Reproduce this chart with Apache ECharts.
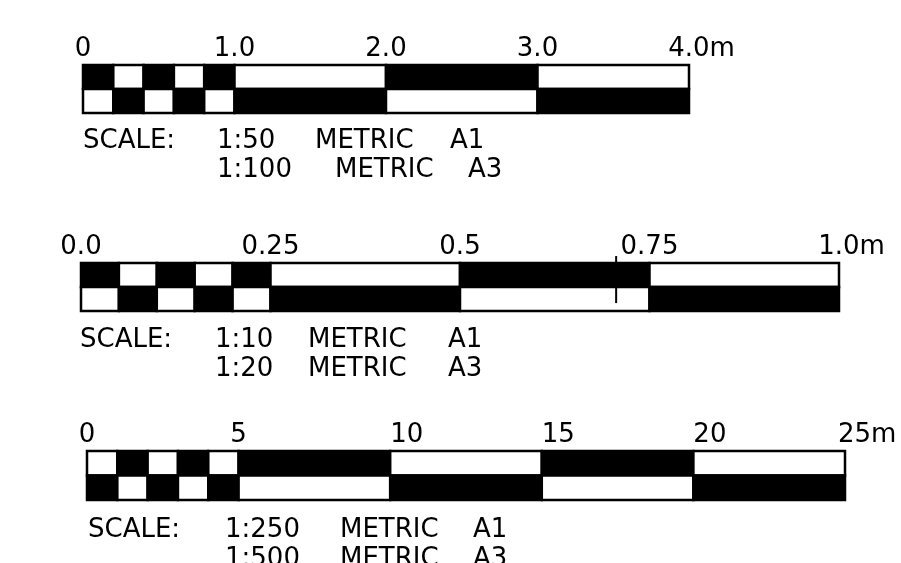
<!DOCTYPE html>
<html><head><meta charset="utf-8">
<script src="https://cdn.jsdelivr.net/npm/echarts@6/dist/echarts.min.js"></script>
<style>html,body{margin:0;padding:0;background:#fff}#c{width:901px;height:563px}</style>
</head><body><div id="c"></div>
<script>
// ---- Scale bar 1 (1:50 / 1:100) ----
const edges1 = [0, 0.2, 0.4, 0.6, 0.8, 1.0, 2.0, 3.0, 4.0];
const topBlackFirst1 = true;
const ticks1 = [0, 1, 2, 3, 4];
const tickLabels1 = ['0', '1.0', '2.0', '3.0', '4.0m'];
const notesA1 = ['SCALE:', '1:50', 'METRIC', 'A1'];
const notesB1 = ['1:100', 'METRIC', 'A3'];

// ---- Scale bar 2 (1:10 / 1:20) ----
const edges2 = [0, 0.05, 0.1, 0.15, 0.2, 0.25, 0.5, 0.75, 1.0];
const topBlackFirst2 = true;
const ticks2 = [0, 0.25, 0.5, 0.75, 1.0];
const tickLabels2 = ['0.0', '0.25', '0.5', '0.75', '1.0m'];
const markers2 = [0.706];
const notesA2 = ['SCALE:', '1:10', 'METRIC', 'A1'];
const notesB2 = ['1:20', 'METRIC', 'A3'];

// ---- Scale bar 3 (1:250 / 1:500) ----
const edges3 = [0, 1, 2, 3, 4, 5, 10, 15, 20, 25];
const topBlackFirst3 = false;
const ticks3 = [0, 5, 10, 15, 20, 25];
const tickLabels3 = ['0', '5', '10', '15', '20', '25m'];
const notesA3 = ['SCALE:', '1:250', 'METRIC', 'A1'];
const notesB3 = ['1:500', 'METRIC', 'A3'];

const FONT = 'DejaVu Sans';
const FS = 26;

const bars = [
  {edges: edges1, topBlack: topBlackFirst1, ticks: ticks1, labels: tickLabels1, markers: [],
   grid: {left: 83, top: 65, width: 606, height: 48}, labelMode: 'center',
   notesA: notesA1, notesB: notesB1, xA: [83, 217, 315, 450], xB: [217, 335, 468], yA: 154, yB: 183},
  {edges: edges2, topBlack: topBlackFirst2, ticks: ticks2, labels: tickLabels2, markers: markers2,
   grid: {left: 81, top: 263, width: 758, height: 48}, labelMode: 'center',
   notesA: notesA2, notesB: notesB2, xA: [80, 215, 308, 448], xB: [215, 308, 448], yA: 353, yB: 382},
  {edges: edges3, topBlack: topBlackFirst3, ticks: ticks3, labels: tickLabels3, markers: [],
   grid: {left: 87, top: 451, width: 758, height: 49}, labelMode: 'left',
   notesA: notesA3, notesB: notesB3, xA: [88, 225, 340, 473], xB: [225, 340, 473], yA: 543, yB: 572}
];

const chart = echarts.init(document.getElementById('c'), null, {renderer: 'canvas'});

const grid = [], xAxis = [], yAxis = [], series = [], graphic = [];
const mW = 25, digitW = 16.5;

function padFor(b, s) {
  const num = s.replace('m', '');
  const hasM = s.endsWith('m');
  if (b.labelMode === 'left' && num.length > 1) return num.length * digitW + (hasM ? mW * 0.45 : 0);
  if (hasM) return mW;
  return 0;
}

bars.forEach((b, k) => {
  grid.push(Object.assign({show: true, borderColor: '#000', borderWidth: 2, backgroundColor: 'transparent', z: 5}, b.grid));
  const maxV = b.edges[b.edges.length - 1];
  const rich = {t: {fontFamily: FONT, fontSize: FS, color: '#000'}};
  b.labels.forEach(s => { const p = padFor(b, s); if (p > 0) rich['p' + Math.round(p)] = {width: p}; });
  xAxis.push({
    type: 'value', gridIndex: k, position: 'top', min: 0, max: maxV,
    interval: b.ticks[1] - b.ticks[0],
    axisLine: {show: false}, axisTick: {show: false}, splitLine: {show: false},
    axisLabel: {
      show: true, margin: 3, color: '#000', fontFamily: FONT, fontSize: FS,
      formatter: function (v) {
        const i = b.ticks.findIndex(t => Math.abs(t - v) < 1e-9);
        if (i < 0) return '';
        const s = b.labels[i];
        const p = padFor(b, s);
        return p > 0 ? '{p' + Math.round(p) + '|}{t|' + s + '}' : '{t|' + s + '}';
      },
      rich: rich
    }
  });
  yAxis.push({type: 'value', gridIndex: k, min: 0, max: 2, show: false});

  const cells = [];
  for (let i = 0; i < b.edges.length - 1; i++) {
    const topBlack = (i % 2 === 0) === b.topBlack;
    cells.push([b.edges[i], b.edges[i + 1], 1, topBlack ? 1 : 0]);
    cells.push([b.edges[i], b.edges[i + 1], 0, topBlack ? 0 : 1]);
  }
  series.push({
    type: 'custom', xAxisIndex: k, yAxisIndex: k, data: cells, silent: true,
    renderItem: function (params, api) {
      const p0 = api.coord([api.value(0), api.value(2) + 1]);
      const p1 = api.coord([api.value(1), api.value(2)]);
      const black = api.value(3) === 1;
      return {
        type: 'rect',
        shape: {x: p0[0], y: p0[1], width: p1[0] - p0[0], height: p1[1] - p0[1]},
        style: {fill: black ? '#000' : '#fff', stroke: '#000', lineWidth: 2.5}
      };
    }
  });
  if (b.markers.length) {
    series.push({
      type: 'custom', xAxisIndex: k, yAxisIndex: k, silent: true, z: 10,
      data: b.markers.map(m => [m, 0.33, 2.29]),
      renderItem: function (params, api) {
        const a = api.coord([api.value(0), api.value(1)]);
        const c = api.coord([api.value(0), api.value(2)]);
        return {type: 'line', shape: {x1: a[0], y1: a[1], x2: c[0], y2: c[1]}, style: {stroke: '#000', lineWidth: 2}};
      }
    });
  }
  const font = FS + 'px "' + FONT + '"';
  b.notesA.forEach((t, j) => graphic.push({type: 'text', x: b.xA[j], y: b.yA, style: {text: t, font: font, fill: '#000', textVerticalAlign: 'bottom'}}));
  b.notesB.forEach((t, j) => graphic.push({type: 'text', x: b.xB[j], y: b.yB, style: {text: t, font: font, fill: '#000', textVerticalAlign: 'bottom'}}));
});

chart.setOption({
  backgroundColor: '#fff',
  animation: false,
  grid: grid, xAxis: xAxis, yAxis: yAxis, series: series, graphic: graphic
});
</script>
</body></html>
